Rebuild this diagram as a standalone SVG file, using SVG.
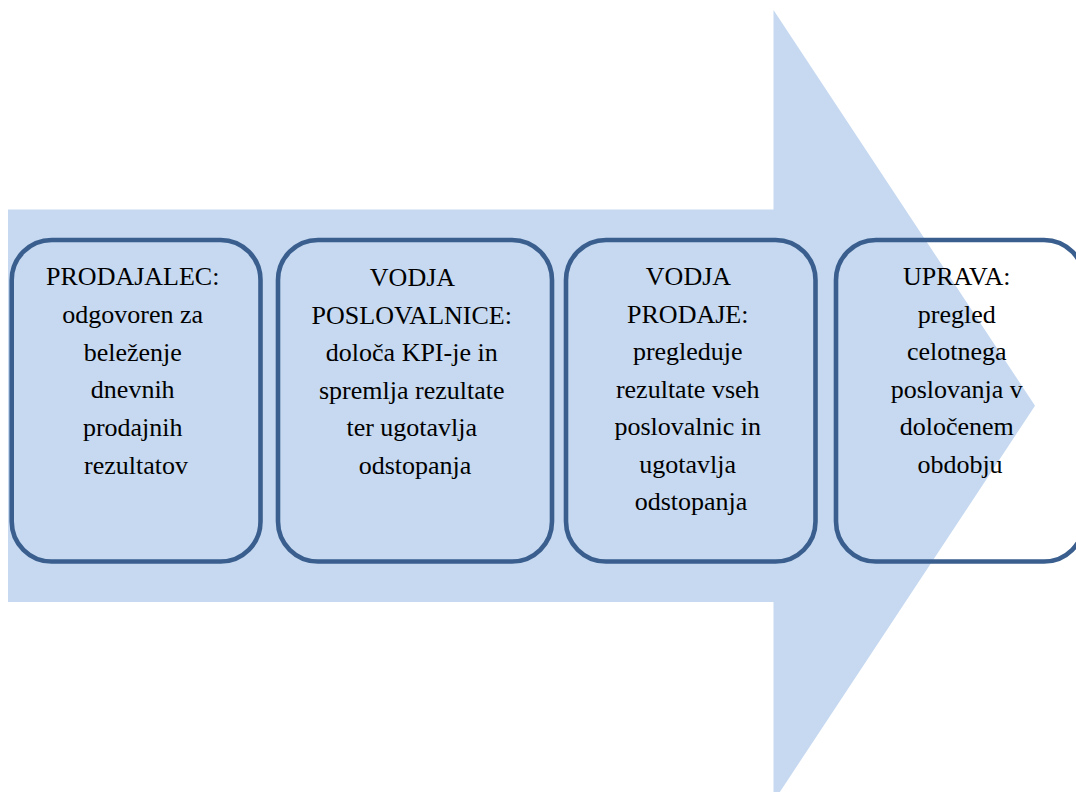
<svg xmlns="http://www.w3.org/2000/svg" width="1076" height="792" viewBox="0 0 1076 792">
  <style>
    .box { fill: none; stroke: #3A5F8E; stroke-width: 4.6; }
    .lbl { font-family: "Liberation Serif", "Times New Roman", serif; font-size: 26px; fill: #000; text-anchor: middle; }
  </style>
  <rect width="1076" height="792" fill="#fff"/>

  <!-- large background process arrow -->
  <g id="flow-arrow">
    <polygon points="8,209.5 773.5,209.5 773.5,10 1035,405.8 773.5,801.6 773.5,602 8,602" fill="#C6D9F1"/>
  </g>

  <g id="connectors"></g>

  <g id="node-prodajalec">
    <rect class="box" x="11.7" y="240" width="248.8" height="321.5" rx="40" ry="40"/>
    <text class="lbl" x="136" y="285">
      <tspan x="136" y="285">PRODAJALEC:</tspan>
      <tspan x="136" y="322.8">odgovoren za</tspan>
      <tspan x="136" y="360.6">beleženje</tspan>
      <tspan x="136" y="398.4">dnevnih</tspan>
      <tspan x="136" y="436.2">prodajnih</tspan>
      <tspan x="136" y="474">rezultatov</tspan>
    </text>
  </g>

  <g id="node-vodja-poslovalnice">
    <rect class="box" x="278" y="240" width="274" height="321.5" rx="40" ry="40"/>
    <text class="lbl" x="415" y="286">
      <tspan x="415" y="286">VODJA</tspan>
      <tspan x="415" y="323.6">POSLOVALNICE:</tspan>
      <tspan x="415" y="361.2">določa KPI-je in</tspan>
      <tspan x="415" y="398.8">spremlja rezultate</tspan>
      <tspan x="415" y="436.4">ter ugotavlja</tspan>
      <tspan x="415" y="474">odstopanja</tspan>
    </text>
  </g>

  <g id="node-vodja-prodaje">
    <rect class="box" x="566" y="240" width="249.5" height="321.5" rx="40" ry="40"/>
    <text class="lbl" x="691" y="285">
      <tspan x="691" y="285">VODJA</tspan>
      <tspan x="691" y="322.5">PRODAJE:</tspan>
      <tspan x="691" y="360">pregleduje</tspan>
      <tspan x="691" y="397.5">rezultate vseh</tspan>
      <tspan x="691" y="435">poslovalnic in</tspan>
      <tspan x="691" y="472.5">ugotavlja</tspan>
      <tspan x="691" y="510">odstopanja</tspan>
    </text>
  </g>

  <g id="node-uprava">
    <rect class="box" x="836" y="240" width="248" height="321.5" rx="40" ry="40"/>
    <text class="lbl" x="960" y="285">
      <tspan x="960" y="285">UPRAVA:</tspan>
      <tspan x="960" y="322.5">pregled</tspan>
      <tspan x="960" y="360">celotnega</tspan>
      <tspan x="960" y="397.5">poslovanja v</tspan>
      <tspan x="960" y="435">določenem</tspan>
      <tspan x="960" y="472.5">obdobju</tspan>
    </text>
  </g>
</svg>
